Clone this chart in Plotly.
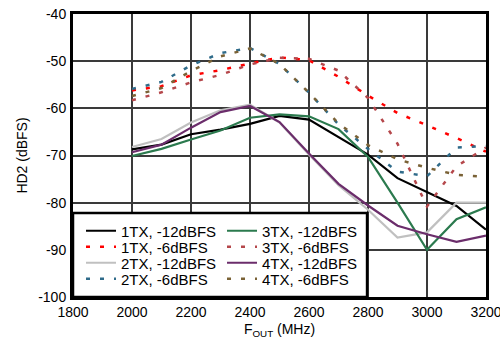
import plotly.graph_objects as go

freq = [2000, 2100, 2200, 2300, 2400, 2500, 2600, 2700, 2800, 2900, 3000, 3100, 3200]

tx1_m12 = [-68.7, -67.7, -65.5, -64.5, -63.3, -61.6, -62.4, -66.1, -69.8, -74.8, -77.8, -80.7, -85.7]
tx1_m6 = [-56.2, -55.3, -53.0, -51.9, -50.5, -49.2, -49.8, -53.3, -57.3, -61.0, -63.6, -66.3, -69.2]
tx2_m12 = [-68.2, -66.5, -63.0, -60.4, -59.2, -63.0, -69.8, -76.3, -81.5, -87.4, -86.3, -80.0, -80.0]
tx2_m6 = [-55.9, -54.4, -50.9, -48.3, -47.2, -50.6, -56.7, -63.4, -68.6, -73.4, -74.4, -68.3, -68.0]
tx3_m12 = [-70.1, -68.6, -66.6, -64.7, -62.0, -61.3, -61.7, -64.4, -70.3, -80.0, -90.0, -83.5, -81.0]
tx3_m6 = [-58.3, -56.6, -54.5, -52.9, -50.7, -49.3, -49.5, -52.0, -57.8, -67.5, -80.8, -72.3, -68.3]
tx4_m12 = [-69.3, -67.7, -64.1, -60.8, -59.5, -62.9, -69.6, -76.0, -80.6, -84.9, -86.7, -88.3, -87.0]
tx4_m6 = [-57.4, -55.7, -52.1, -49.0, -47.3, -50.6, -56.7, -63.2, -67.8, -70.8, -72.6, -74.1, -74.5]

x_ticks = [1800, 2000, 2200, 2400, 2600, 2800, 3000, 3200]
y_ticks = [-100, -90, -80, -70, -60, -50, -40]

series = [
    ("1TX, -12dBFS", tx1_m12, "#000000", "solid", "legend"),
    ("1TX, -6dBFS", tx1_m6, "#ff0000", "4px,10px", "legend2"),
    ("2TX, -12dBFS", tx2_m12, "#c0c0c0", "solid", "legend3"),
    ("2TX, -6dBFS", tx2_m6, "#2f6b8a", "4px,10px", "legend4"),
    ("3TX, -12dBFS", tx3_m12, "#2b7a4e", "solid", "legend"),
    ("3TX, -6dBFS", tx3_m6, "#b5474b", "4px,10px", "legend2"),
    ("4TX, -12dBFS", tx4_m12, "#6b2d6b", "solid", "legend3"),
    ("4TX, -6dBFS", tx4_m6, "#7a6236", "4px,10px", "legend4"),
]

fig = go.Figure()
for name, ys, color, dash, lg in series:
    fig.add_trace(go.Scatter(
        x=freq, y=ys, name=name, mode="lines",
        line=dict(color=color, width=2.2 if dash == "solid" else 2.5, dash=dash),
        legend=lg,
    ))

FONT = "Liberation Sans, Arial, Helvetica, sans-serif"

# legend box (white, framed)
fig.add_shape(type="rect", xref="paper", yref="paper",
              x0=0, x1=0.712, y0=0, y1=0.297,
              fillcolor="white", line=dict(color="black", width=2.5), layer="above")

row_y = [0.2332, 0.1767, 0.1201, 0.0636]
leg_common = dict(orientation="h", x=0.0194, xanchor="left", yanchor="middle",
                  bgcolor="rgba(0,0,0,0)", borderwidth=0,
                  font=dict(family=FONT, size=15, color="black"),
                  entrywidth=96, entrywidthmode="pixels", itemclick=False)

fig.update_layout(
    width=500, height=341,
    margin=dict(l=73, r=14, t=14, b=44, autoexpand=False),
    paper_bgcolor="white", plot_bgcolor="white",
    font=dict(family=FONT, size=14, color="black"),
    showlegend=True,
    legend=dict(y=row_y[0], **leg_common),
    legend2=dict(y=row_y[1], **leg_common),
    legend3=dict(y=row_y[2], **leg_common),
    legend4=dict(y=row_y[3], **leg_common),
    xaxis=dict(range=[1800, 3200], tickvals=x_ticks, ticktext=[str(v) for v in x_ticks],
               showgrid=True, gridcolor="#3a3a3a", gridwidth=1.5,
               showline=True, linecolor="black", linewidth=3, mirror=True,
               zeroline=False, ticks="", tickfont=dict(size=14), automargin=False,
               ticklabeloverflow="allow",
               title=dict(text="F<sub>OUT</sub> (MHz)", font=dict(size=14), standoff=6)),
    yaxis=dict(range=[-100, -40], tickvals=y_ticks, ticktext=[str(v) for v in y_ticks],
               showgrid=True, gridcolor="#3a3a3a", gridwidth=1.5,
               showline=True, linecolor="black", linewidth=3, mirror=True,
               zeroline=False, ticks="", tickfont=dict(size=14), ticklabelstandoff=1,
               automargin=False, ticklabeloverflow="allow",
               title=dict(text="HD2 (dBFS)", font=dict(size=14), standoff=8)),
)

fig.write_html("out.html", config={"displayModeBar": False},
               post_script="document.body.style.margin='0';")
